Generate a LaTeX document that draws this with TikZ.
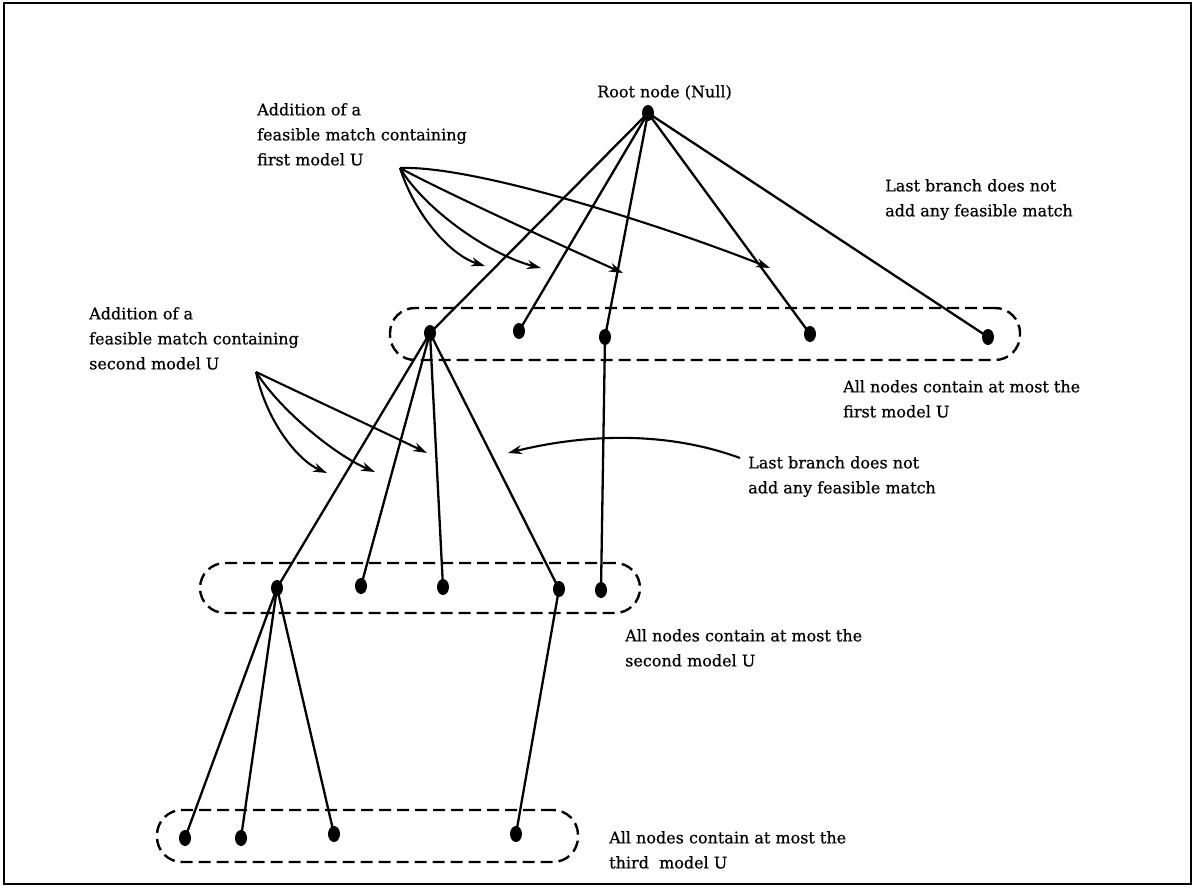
\documentclass[tikz,border=0pt]{standalone}
\usepackage{fontspec}
\setmainfont[FakeBold=0.6]{DejaVu Serif}
\usetikzlibrary{arrows.meta,shapes.geometric}
\begin{document}
\begin{tikzpicture}[x=1pt,y=-1pt,
  lbl/.style={anchor=north west, inner sep=0pt, align=left, font=\fontsize{16}{25}\selectfont},
  dot/.style={ellipse, fill=black, inner sep=0pt, minimum width=12pt, minimum height=16pt},
  edge/.style={line width=2.3pt},
  arr/.style={line width=2.1pt, -{Stealth[length=14pt,width=9pt]}},
  grp/.style={draw, dash pattern=on 12pt off 6pt, line width=2.4pt, rounded corners=25pt, inner sep=0pt}
]
\useasboundingbox (0,0) rectangle (1194,890);
\node[draw, line width=2pt, minimum width=1187pt, minimum height=880pt, inner sep=0pt] (frame) at (597.5,443.5) {};

% groups
\node[grp, minimum width=630pt, minimum height=52pt] (g1) at (705,334) {};
\node[grp, minimum width=440pt, minimum height=50pt] (g2) at (420,588) {};
\node[grp, minimum width=421pt, minimum height=52pt] (g3) at (367.5,836) {};

% tree nodes
\node[dot] (r) at (648,113) {};
\node[dot] (a1) at (430,333) {};
\node[dot] (a2) at (519,331) {};
\node[dot] (a3) at (605,337) {};
\node[dot] (a4) at (810,334) {};
\node[dot] (a5) at (988,337) {};
\node[dot] (b1) at (277,588) {};
\node[dot] (b2) at (361,586) {};
\node[dot] (b3) at (443,587) {};
\node[dot] (b4) at (559,589) {};
\node[dot] (b5) at (601,590) {};
\node[dot] (c1) at (185,838) {};
\node[dot] (c2) at (241,838) {};
\node[dot] (c3) at (334,834) {};
\node[dot] (c4) at (516,834) {};

% tree edges
\foreach \t in {a1,a2,a3,a4,a5} \draw[edge] (r.center) -- (\t.center);
\foreach \t in {b1,b2,b3,b4} \draw[edge] (a1.center) -- (\t.center);
\draw[edge] (a3.center) -- (b5.center);
\foreach \t in {c1,c2,c3} \draw[edge] (b1.center) -- (\t.center);
\draw[edge] (b4.center) -- (c4.center);

% labels
\node[lbl] (root) at (597,85) {Root node (Null)};
\node[lbl] (t1) at (257,103) {Addition of a\\feasible match containing\\first model U};
\node[lbl] (t2) at (885,179) {Last branch does not\\add any feasible match};
\node[lbl] (t3) at (89,307) {Addition of a\\feasible match containing\\second model U};
\node[lbl] (t4) at (843,380) {All nodes contain at most the\\first model U};
\node[lbl] (t5) at (748,456) {Last branch does not\\add any feasible match};
\node[lbl] (t6) at (625,629) {All nodes contain at most the\\second model U};
\node[lbl] (t7) at (609,831) {All nodes contain at most the\\third\ \ model U};

% arrows, first group
\coordinate (s1) at (400,168);
\coordinate (e11) at (485,266);
\coordinate (e12) at (541,268);
\coordinate (e13) at (623,273);
\coordinate (e14) at (770,268);
\draw[arr] (s1) .. controls (415,215) and (450,255) .. (e11);
\draw[arr] (s1) .. controls (425,210) and (490,255) .. (e12);
\draw[arr] (s1) .. controls (440,190) and (560,245) .. (e13);
\draw[arr] (s1) .. controls (480,165) and (680,232) .. (e14);

% arrows, second group
\coordinate (s2) at (256,372);
\coordinate (e21) at (327,473);
\coordinate (e22) at (375,472);
\coordinate (e23) at (427,453);
\draw[arr] (s2) .. controls (266,420) and (297,460) .. (e21);
\draw[arr] (s2) .. controls (280,410) and (335,455) .. (e22);
\draw[arr] (s2) .. controls (300,393) and (390,435) .. (e23);

% last branch arrow
\coordinate (s3) at (740,458);
\coordinate (e31) at (508,453);
\draw[arr] (s3) .. controls (650,425) and (560,440) .. (e31);
\end{tikzpicture}
\end{document}
